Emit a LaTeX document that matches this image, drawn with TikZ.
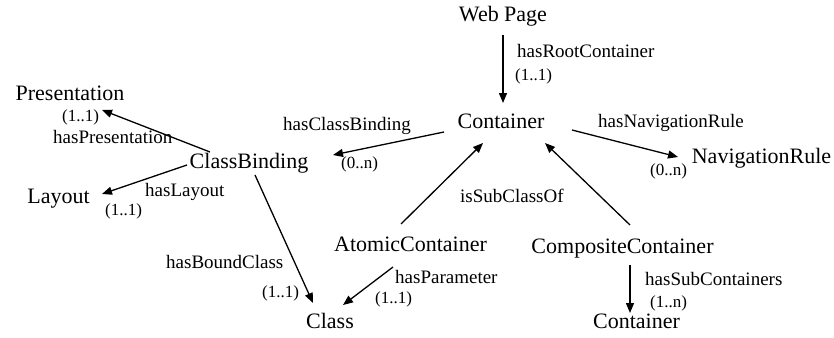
\documentclass[tikz,border=0pt]{standalone}
\usepackage{fontspec}
\setmainfont{Liberation Serif}
\usetikzlibrary{arrows.meta}
\tikzset{
  ent/.style={inner sep=0pt, anchor=base, font=\fontsize{22}{26}\selectfont},
  rel/.style={inner sep=0pt, anchor=base west, font=\fontsize{19}{22}\selectfont},
  mult/.style={inner sep=0pt, anchor=base west, font=\fontsize{17}{20}\selectfont},
  arr/.style={line width=1.3pt, -{Triangle[length=10pt,width=8pt]}}
}
\begin{document}
\begin{tikzpicture}[x=1pt,y=-1pt]
\useasboundingbox (0,0) rectangle (834,337);
% entities
\node[ent] (WP) at (503,22) {Web Page};
\node[ent] (C) at (501,128) {Container};
\node[ent] (CB) at (249,168) {ClassBinding};
\node[ent] (P) at (70,100) {Presentation};
\node[ent] (L) at (58.5,203) {Layout};
\node[ent] (NR) at (761.5,163) {NavigationRule};
\node[ent] (AC) at (410.5,251) {AtomicContainer};
\node[ent] (CC) at (622.5,253) {CompositeContainer};
\node[ent] (CL) at (330,328) {Class};
\node[ent] (C2) at (636.5,328) {Container};
% relation labels
\node[rel] (l1) at (517,57) {hasRootContainer};
\node[mult] (m1) at (515,80) {(1..1)};
\node[rel] (l2) at (283,130) {hasClassBinding};
\node[mult] (m2) at (341,168) {(0..n)};
\node[rel] (l3) at (598,127) {hasNavigationRule};
\node[mult] (m3) at (650,175) {(0..n)};
\node[mult] (m4) at (62,121) {(1..1)};
\node[rel] (l4) at (53,143) {hasPresentation};
\node[rel] (l5) at (145,196) {hasLayout};
\node[mult] (m5) at (105,215) {(1..1)};
\node[rel] (l6) at (166,268) {hasBoundClass};
\node[mult] (m6) at (262,297) {(1..1)};
\node[rel] (l7) at (460,202) {isSubClassOf};
\node[rel] (l8) at (395,283) {hasParameter};
\node[mult] (m8) at (375,303) {(1..1)};
\node[rel] (l9) at (645,285) {hasSubContainers};
\node[mult] (m9) at (650,307) {(1..n)};
% connectors
\draw[arr] ([shift={(0,13)}]WP.base) -- ([shift={(2,-25)}]C.base);
\draw[arr] ([shift={(-57,4)}]C.base) -- ([shift={(84,-13)}]CB.base);
\draw[arr] ([shift={(71,2)}]C.base) -- ([shift={(-83.5,-6)}]NR.base);
\draw[arr] ([shift={(-39,-16)}]CB.base) -- ([shift={(32,10)}]P.base);
\draw[arr] ([shift={(-62,-3)}]CB.base) -- ([shift={(43.5,-9)}]L.base);
\draw[arr] ([shift={(6,7)}]CB.base) -- ([shift={(-17,-25)}]CL.base);
\draw[arr] ([shift={(-9.5,-27)}]AC.base) -- ([shift={(-18,15)}]C.base);
\draw[arr] ([shift={(7.5,-28)}]CC.base) -- ([shift={(44,15)}]C.base);
\draw[arr] ([shift={(-17.5,16)}]AC.base) -- ([shift={(13,-23)}]CL.base);
\draw[arr] ([shift={(7.5,12)}]CC.base) -- ([shift={(-6.5,-15)}]C2.base);
\end{tikzpicture}
\end{document}
